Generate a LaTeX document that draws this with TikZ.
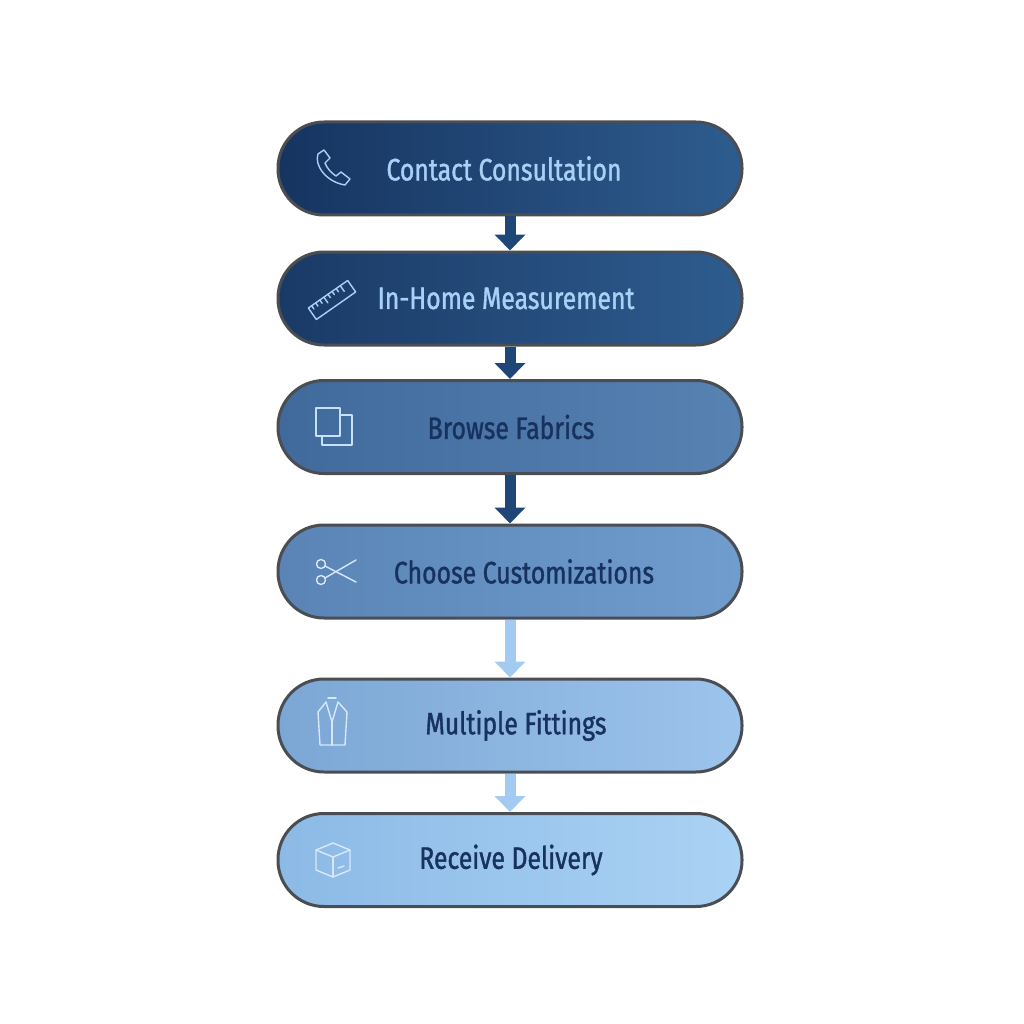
\documentclass[tikz,border=0pt]{standalone}
\usepackage{fontspec}
\setmainfont[FakeStretch=0.80,FakeBold=1.2]{Fira Sans}
\usetikzlibrary{arrows.meta}
\definecolor{tl}{HTML}{A9D1F7}
\definecolor{td}{HTML}{17325E}
\definecolor{bd}{HTML}{4A4D52}
\definecolor{ad}{HTML}{1E4677}
\definecolor{al}{HTML}{A3CBF2}
\definecolor{ia}{HTML}{C8E1FA}
\definecolor{ib}{HTML}{D7E8FA}
\definecolor{aL}{RGB}{22,52,96}\definecolor{aR}{RGB}{46,92,142}
\definecolor{bL}{RGB}{26,58,102}\definecolor{bR}{RGB}{46,92,142}
\definecolor{cL}{RGB}{64,106,156}\definecolor{cR}{RGB}{88,130,178}
\definecolor{dL}{RGB}{90,132,182}\definecolor{dR}{RGB}{112,156,206}
\definecolor{eL}{RGB}{124,166,212}\definecolor{eR}{RGB}{156,196,236}
\definecolor{fL}{RGB}{140,186,230}\definecolor{fR}{RGB}{170,210,244}
\begin{document}
\begin{tikzpicture}[x=1pt,y=-1pt,
 pill/.style={draw=bd,line width=3pt,rounded corners=46pt,minimum width=464pt,minimum height=93pt,font=\fontsize{31}{33}\selectfont,inner sep=0pt},
 arr/.style={-{Triangle[width=30pt,length=16pt]},line width=11pt},
 ic/.style={line width=1.4pt,line join=round,line cap=round}]
\useasboundingbox (0,0) rectangle (1024,1024);
\node[pill,left color=aL,right color=aR,text=tl] (s1) at (510,168.5) {\hspace*{-12pt}Contact Consultation};
\node[pill,left color=bL,right color=bR,text=tl] (s2) at (510,298.5) {\hspace*{-8pt}In-Home Measurement};
\node[pill,left color=cL,right color=cR,text=td] (s3) at (510,427) {\hspace*{2pt}Browse Fabrics};
\node[pill,left color=dL,right color=dR,text=td] (s4) at (510,571.5) {\hspace*{28pt}Choose Customizations};
\node[pill,left color=eL,right color=eR,text=td] (s5) at (510,725.5) {\hspace*{12pt}Multiple Fittings};
\node[pill,left color=fL,right color=fR,text=td] (s6) at (510,860) {\hspace*{2pt}Receive Delivery};
\draw[arr,ad] (s1.south) -- (s2.north);
\draw[arr,ad] (s2.south) -- (s3.north);
\draw[arr,ad] (s3.south) -- (s4.north);
\draw[arr,al] (s4.south) -- (s5.north);
\draw[arr,al] (s5.south) -- (s6.north);
% icons
\draw[ic,tl] (318,154) .. controls (314,165) and (326,182) .. (345,185) -- (350,179) -- (341,172) -- (336,176) .. controls (331,173) and (327,168) .. (325,163) -- (330,158) -- (324,150) -- cycle;
\begin{scope}[rotate around={35:(332,300)}]
\draw[ic,tl] (308,293) rectangle (356,307);
\foreach \i/\l in {0/297,1/297,2/297,3/300,4/297,5/297,6/297,7/300}{\draw[ic,tl] (312+5*\i,293) -- (312+5*\i,\l);}
\end{scope}
\draw[ic,ia] (316,408) rectangle (340,436);
\draw[ic,ia] (340,415) -- (352,415) -- (352,445) -- (322,445) -- (322,436);
\begin{scope}[ic,ib]
\draw (321,564) circle (4.5);\draw (321,580) circle (4.5);
\draw (325,566) -- (356,582);\draw (325,578) -- (356,560);
\end{scope}
\begin{scope}[ic,ib]
\draw (326,702) -- (318,712) -- (320,745) -- (345,745) -- (347,712) -- (338,702);
\draw (326,702) -- (332,722) -- (338,702);\draw (332,722) -- (332,745);
\draw (328,698) -- (336,698);
\end{scope}
\begin{scope}[ic,ib]
\draw (316,850) -- (333,843) -- (350,850) -- (350,870) -- (333,877) -- (316,870) -- cycle;
\draw (316,850) -- (333,857) -- (350,850);\draw (333,857) -- (333,877);
\draw (338,868) -- (344,866);
\end{scope}
\end{tikzpicture}
\end{document}
